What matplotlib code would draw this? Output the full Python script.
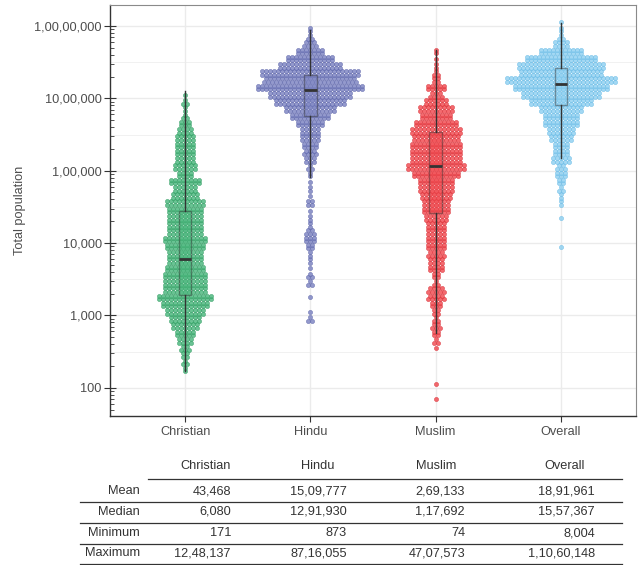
import numpy as np
import matplotlib.pyplot as plt
from matplotlib.ticker import FixedLocator, NullFormatter, FuncFormatter

plt.rcParams['font.family'] = ['Liberation Sans', 'DejaVu Sans']

groups = ['Christian', 'Hindu', 'Muslim', 'Overall']
fills = ['#45B579', '#7880C0', '#F0454B', '#8CCFF0']
edges = ['#2F9A60', '#5A62A8', '#D83038', '#65B9E6']

# number of dots in each 0.1-decade bin, bins start at the given log10 value
christian_start = 2.2
christian_bins = [2, 3, 4, 5, 8, 10, 14, 16, 20, 24, 28, 22, 22, 22, 20, 18, 18, 20, 22, 18,
                  18, 18, 18, 20, 14, 12, 16, 8, 12, 10, 10, 10, 10, 8, 6, 3, 2, 3, 1]
hindu_start = 2.9
hindu_bins = [3, 1, 0, 1, 0, 3, 3, 1, 2, 2, 4, 6, 5, 2, 2, 1, 4, 1, 2, 1,
              2, 3, 6, 7, 8, 10, 10, 14, 20, 26, 36, 42, 54, 47, 50, 32, 24, 14, 7, 3, 2]
muslim_start = 1.8
muslim_bins = [1, 0, 1, 0, 0, 0, 0, 1, 3, 4, 5, 3, 4, 6, 9, 9, 3, 4, 8, 8,
               9, 10, 10, 10, 10, 12, 14, 14, 16, 18, 18, 24, 30, 26, 26, 26, 24, 26, 22, 16,
               18, 12, 7, 10, 4, 3, 2, 1, 2]
overall_start = 3.9
overall_bins = [1, 0, 0, 0, 1, 0, 2, 2, 3, 4, 6, 5, 10, 8, 8, 12, 14, 18, 18, 22,
                32, 40, 48, 56, 42, 44, 36, 22, 8, 3, 2, 1]

# summary table
mean_vals = [43468, 1509777, 269133, 1891961]
median_vals = [6080, 1291930, 117692, 1557367]
min_vals = [171, 873, 74, 8004]
max_vals = [1248137, 8716055, 4707573, 11060148]

# box edges and lower whisker ends
q1_vals = [1930, 570000, 26000, 810000]
q3_vals = [27900, 2100000, 340000, 2600000]
whisker_lo = [171, 81000, 575, 150000]
whisker_hi = [1248137, 8716055, 4707573, 11060148]

DOT_STEP = 0.032
FS = 9.2


def inr(n):
    s = str(int(n))
    if len(s) <= 3:
        return s
    head, tail = s[:-3], s[-3:]
    parts = []
    while len(head) > 2:
        parts.insert(0, head[-2:])
        head = head[:-2]
    if head:
        parts.insert(0, head)
    return ','.join(parts + [tail])


def dots(start, counts, xpos):
    xs, ys = [], []
    for k, n in enumerate(counts):
        lo = start + 0.1 * k
        if n == 1:
            rows = [(1, lo + 0.05)]
        else:
            rows = [((n + 1) // 2, lo + 0.025), (n // 2, lo + 0.075)]
        for m, lv in rows:
            for i in range(m):
                xs.append(xpos + (i - (m - 1) / 2) * DOT_STEP)
                ys.append(10 ** lv)
    return xs, ys


fig = plt.figure(figsize=(6.44, 5.65), dpi=100)
ax = fig.add_axes([110 / 644, 1 - 416 / 565, 526 / 644, 411 / 565])
ax.set_yscale('log')
ax.set_xlim(0.4, 4.6)
ax.set_ylim(10 ** 1.61, 10 ** 7.29)

# grid
for e in range(2, 8):
    ax.axhline(10 ** e, color='#EBEBEB', lw=1.0, zorder=0)
for e in range(1, 8):
    ax.axhline(10 ** (e + 0.5), color='#F1F1F1', lw=0.7, zorder=0)
for i in range(4):
    ax.axvline(i + 1, color='#EBEBEB', lw=1.0, zorder=0)

swarms = [(christian_start, christian_bins), (hindu_start, hindu_bins),
          (muslim_start, muslim_bins), (overall_start, overall_bins)]
for i, (st, cnt) in enumerate(swarms):
    xs, ys = dots(st, cnt, i + 1)
    ax.scatter(xs, ys, s=9, color=fills[i], edgecolors=edges[i], linewidths=0.4,
               alpha=0.8, zorder=2)

stats = []
for i in range(4):
    stats.append({'med': median_vals[i], 'q1': q1_vals[i], 'q3': q3_vals[i],
                  'whislo': whisker_lo[i], 'whishi': whisker_hi[i], 'fliers': []})
bp = ax.bxp(stats, positions=[1, 2, 3, 4], widths=0.1, patch_artist=True,
            showcaps=False, showfliers=False, manage_ticks=False,
            boxprops=dict(edgecolor='#333333', linewidth=1.0),
            whiskerprops=dict(color='#333333', linewidth=1.0),
            medianprops=dict(color='#333333', linewidth=2.0))
for patch, c in zip(bp['boxes'], fills):
    patch.set_facecolor(c)
    patch.set_alpha(0.45)
    patch.set_edgecolor('#333333')
for art in bp['whiskers'] + bp['medians'] + bp['boxes']:
    art.set_zorder(3)

ax.yaxis.set_major_locator(FixedLocator([10 ** e for e in range(2, 8)]))
ax.yaxis.set_major_formatter(FuncFormatter(lambda v, p: inr(round(v))))
minor = [m * 10 ** e for e in range(1, 8) for m in range(2, 10)]
ax.yaxis.set_minor_locator(FixedLocator(minor))
ax.yaxis.set_minor_formatter(NullFormatter())
ax.tick_params(axis='y', which='major', direction='inout', length=8, width=0.8,
               color='#333333', labelsize=FS, labelcolor='#4D4D4D', pad=2)
ax.tick_params(axis='y', which='minor', direction='in', length=3, width=0.6,
               color='#333333')
ax.set_xticks([1, 2, 3, 4])
ax.set_xticklabels(groups)
ax.tick_params(axis='x', direction='out', length=4, width=0.8, color='#333333',
               labelsize=FS, labelcolor='#4D4D4D', pad=3)

for side in ['left', 'bottom']:
    ax.spines[side].set_color('#333333')
    ax.spines[side].set_linewidth(1.0)
for side in ['top', 'right']:
    ax.spines[side].set_color('#8A8A8A')
    ax.spines[side].set_linewidth(0.8)

fig.text(20 / 644, 1 - 210 / 565, 'Total population', rotation=90, ha='center',
         va='center', fontsize=FS, color='#4D4D4D')

# summary table underneath
tab = fig.add_axes([0, 0, 1, 1])
tab.set_xlim(0, 644)
tab.set_ylim(565, 0)
tab.axis('off')
tab.patch.set_visible(False)

header_x = [206, 318, 436, 565]
value_x = [231, 347, 465, 595]
for hx, g in zip(header_x, groups):
    tab.text(hx, 466, g, ha='center', va='center', fontsize=FS, color='#333333')
tab.plot([148, 622], [478.5, 478.5], color='#333333', lw=0.9)

rows = [('Mean', mean_vals), ('Median', median_vals),
        ('Minimum', min_vals), ('Maximum', max_vals)]
row_y = [491, 512, 533, 553]
for (name, vals), ry in zip(rows, row_y):
    tab.text(140, ry, name, ha='right', va='center', fontsize=FS, color='#333333')
    for vx, v in zip(value_x, vals):
        tab.text(vx, ry, inr(v), ha='right', va='center', fontsize=FS, color='#333333')
    tab.plot([80, 622], [ry + 11, ry + 11], color='#333333', lw=0.9)

fig.savefig('out.png', dpi=100)
